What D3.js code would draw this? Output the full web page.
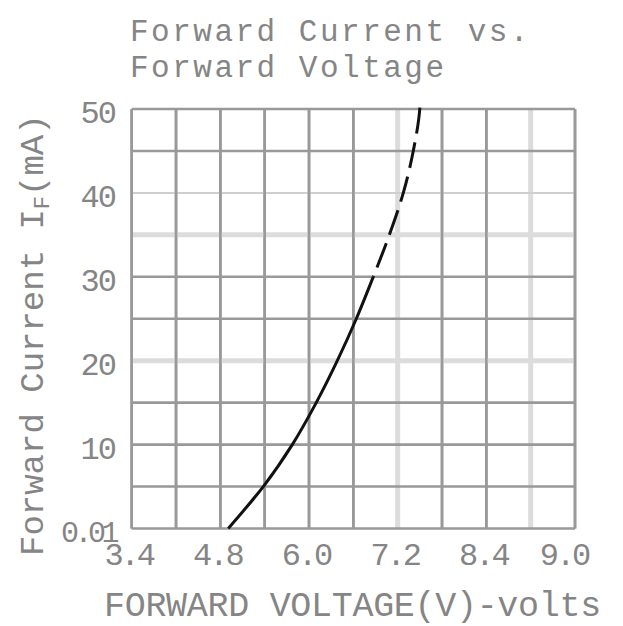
<!DOCTYPE html>
<html>
<head>
<meta charset="utf-8">
<script src="https://cdn.jsdelivr.net/npm/d3@7"></script>
<style>
  html, body { margin: 0; padding: 0; background: #fff; }
  svg { display: block; }
  text { font-family: "Liberation Mono", "DejaVu Sans Mono", monospace; fill: #858585; }
</style>
</head>
<body>
<svg id="chart" width="623" height="626"></svg>
<script>
// ---- data ----
const titleLines = ["Forward Current vs.", "Forward Voltage"];
const xTitle = "FORWARD VOLTAGE(V)-volts";
const yTitleMain = "Forward Current I";
const yTitleSub = "F";
const yTitleEnd = "(mA)";

const xTickValues = [3.4, 4.8, 6.0, 7.2, 8.4, 9.0];
const xTickLabels = ["3.4", "4.8", "6.0", "7.2", "8.4", "9.0"];
const xGridValues = [3.4, 4.1, 4.8, 5.4, 6.0, 6.6, 7.2, 7.8, 8.4, 8.7, 9.0];

const yTickValues = [0.01, 10, 20, 30, 40, 50];
const yTickLabels = ["0.01", "10", "20", "30", "40", "50"];
const yGridValues = [0, 5, 10, 15, 20, 25, 30, 35, 40, 45, 50];

// measured curve (solid part, then dashed part)
const solidVoltage = [4.907, 5.381, 5.774, 6.098, 6.383, 6.640, 6.870];
const solidCurrent = [0.01, 5, 10, 15, 20, 25, 30];
const dashedVoltage = [6.870, 7.087, 7.276, 7.411, 7.499, 7.505];
const dashedCurrent = [30, 35, 40, 45, 50, 50.8];

// ---- layout ----
const svg = d3.select("#chart");
const plotLeft = 131.7, plotRight = 575, plotBottom = 528.5, plotTop = 109;

// The printed x axis is not uniform: piecewise linear between labelled ticks
const x = d3.scaleLinear()
  .domain(xTickValues)
  .range([0, 2, 4, 6, 8, 10].map(i => plotLeft + (plotRight - plotLeft) * i / 10));
const y = d3.scaleLinear().domain([0, 50]).range([plotBottom, plotTop]);

// grid
const lightThickX = new Set([7.2, 8.7]);
const lightThickY = new Set([20, 35]);
const lightThinY = new Set([40]);

const grid = svg.append("g");
grid.selectAll("line.v").data(xGridValues).enter().append("line")
  .attr("x1", d => x(d)).attr("x2", d => x(d))
  .attr("y1", y(0)).attr("y2", y(50))
  .attr("stroke", d => lightThickX.has(d) ? "#dcdcdc" : "#999")
  .attr("stroke-width", d => lightThickX.has(d) ? 5 : 2.6);
grid.selectAll("line.h").data(yGridValues).enter().append("line")
  .attr("y1", d => y(d)).attr("y2", d => y(d))
  .attr("x1", x(3.4)).attr("x2", x(9.0))
  .attr("stroke", d => lightThickY.has(d) ? "#dcdcdc" : (lightThinY.has(d) ? "#cfcfcf" : "#999"))
  .attr("stroke-width", d => lightThickY.has(d) ? 5 : (lightThinY.has(d) ? 2 : 2.6));
// redraw dark verticals over light horizontals where they cross
grid.selectAll("line.v2").data(xGridValues.filter(d => !lightThickX.has(d))).enter().append("line")
  .attr("x1", d => x(d)).attr("x2", d => x(d))
  .attr("y1", y(0)).attr("y2", y(50))
  .attr("stroke", "#999").attr("stroke-width", 2.6);

// curve
const line = d3.line().x(d => x(d[0])).y(d => y(d[1])).curve(d3.curveMonotoneY);
svg.append("path")
  .datum(solidVoltage.map((v, i) => [v, solidCurrent[i]]))
  .attr("d", line).attr("fill", "none").attr("stroke", "#111").attr("stroke-width", 3);
svg.append("path")
  .datum(dashedVoltage.map((v, i) => [v, dashedCurrent[i]]))
  .attr("d", line).attr("fill", "none").attr("stroke", "#111").attr("stroke-width", 3)
  .attr("stroke-dasharray", "26,9").attr("stroke-dashoffset", -10);

// x tick labels (last one is pulled inside the frame, as in the print)
const lastX = xTickValues[xTickValues.length - 1];
svg.append("g").selectAll("text").data(xTickValues).enter().append("text")
  .attr("x", d => x(d) - (d === lastX ? 11 : 3)).attr("y", 565)
  .attr("text-anchor", "middle")
  .style("font-size", "32px").style("letter-spacing", "-3px")
  .text((d, i) => xTickLabels[i]);

// y tick labels
svg.append("g").selectAll("text").data(yTickValues).enter().append("text")
  .attr("x", 115).attr("y", d => y(d) + 14)
  .attr("text-anchor", "end")
  .style("font-size", d => d < 1 ? "30px" : "32px")
  .style("letter-spacing", d => d < 1 ? "-4.5px" : "-2px")
  .text((d, i) => yTickLabels[i]);

// title
svg.append("g").selectAll("text").data(titleLines).enter().append("text")
  .attr("x", 130).attr("y", (d, i) => 41 + i * 36)
  .style("font-size", "31px").style("letter-spacing", "2.5px")
  .text(d => d);

// x axis title
svg.append("text")
  .attr("x", 104).attr("y", 616)
  .style("font-size", "35px").style("letter-spacing", "-0.3px")
  .text(xTitle);

// y axis title (rotated)
const yt = svg.append("text")
  .attr("transform", "translate(43,556) rotate(-90)")
  .style("font-size", "34px").style("letter-spacing", "0px");
yt.append("tspan").text(yTitleMain);
yt.append("tspan").attr("dy", 6).style("font-size", "22px").text(yTitleSub);
yt.append("tspan").attr("dy", -6).text(yTitleEnd);
</script>
</body>
</html>
